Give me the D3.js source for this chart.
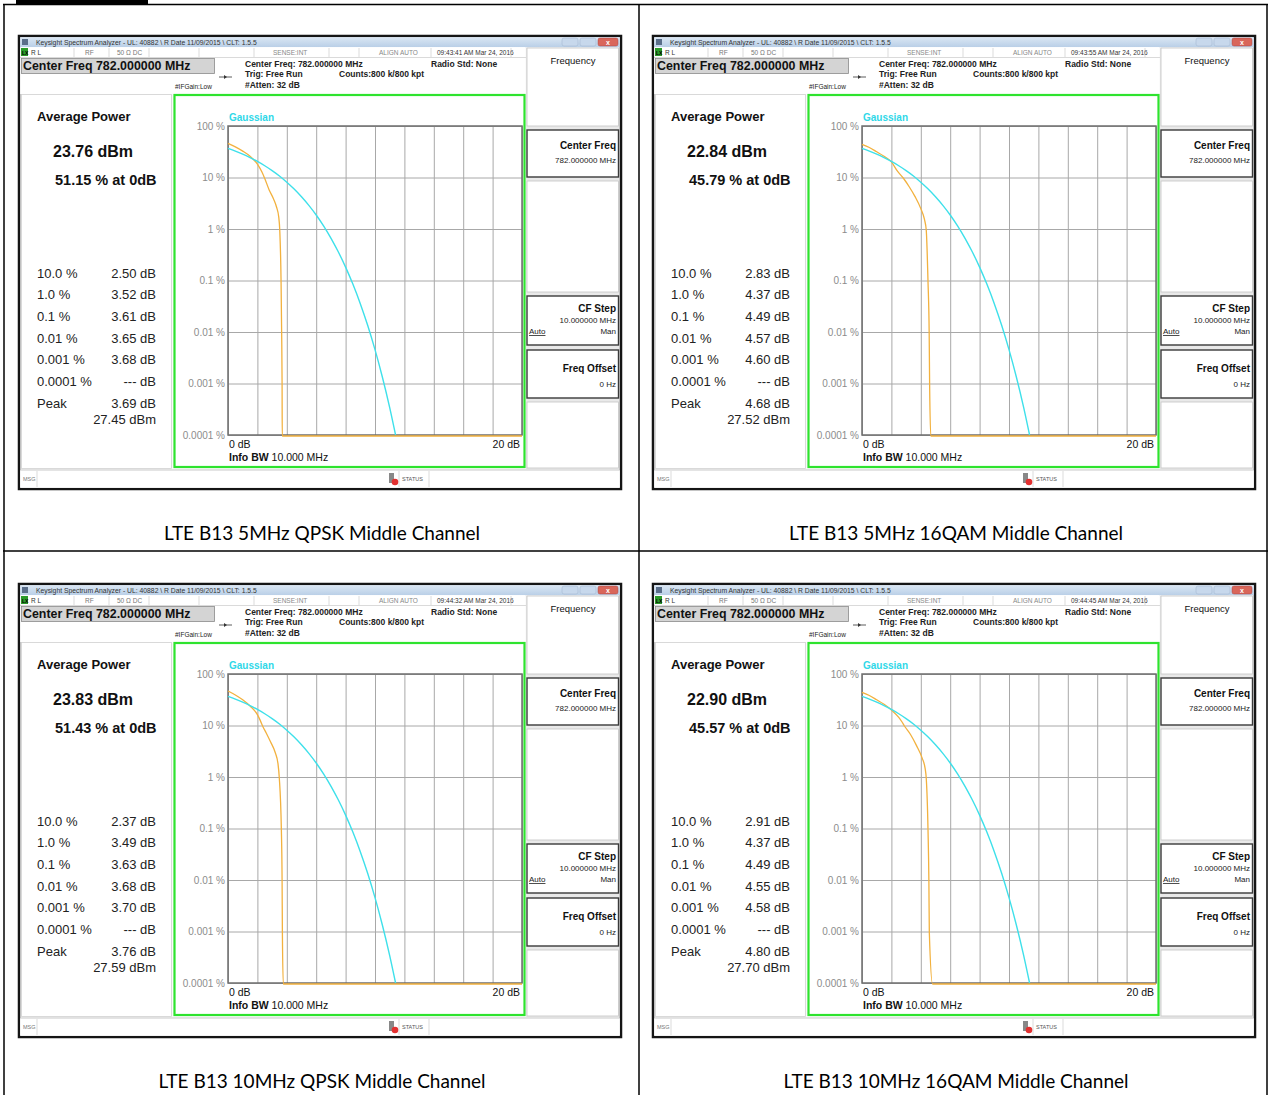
<!DOCTYPE html>
<html><head><meta charset="utf-8">
<script src="https://cdn.jsdelivr.net/npm/d3@7"></script>
<style>
body{margin:0;background:#fff;}
svg{display:block;}
text{font-family:"Liberation Sans",Arial,sans-serif;}
</style></head><body>
<script>
// ---------------- DATA ----------------
const captions = ["LTE B13 5MHz QPSK Middle Channel","LTE B13 5MHz 16QAM Middle Channel",
                  "LTE B13 10MHz QPSK Middle Channel","LTE B13 10MHz 16QAM Middle Channel"];
const timestamps = ["09:43:41 AM Mar 24, 2016","09:43:55 AM Mar 24, 2016",
                    "09:44:32 AM Mar 24, 2016","09:44:45 AM Mar 24, 2016"];
const avgPower = ["23.76 dBm","22.84 dBm","23.83 dBm","22.90 dBm"];
const pctAt0dB = ["51.15 % at 0dB","45.79 % at 0dB","51.43 % at 0dB","45.57 % at 0dB"];
const ccdfLabels = ["10.0 %","1.0 %","0.1 %","0.01 %","0.001 %","0.0001 %","Peak"];
const ccdfValues1 = ["2.50 dB","3.52 dB","3.61 dB","3.65 dB","3.68 dB","--- dB","3.69 dB"];
const ccdfValues2 = ["2.83 dB","4.37 dB","4.49 dB","4.57 dB","4.60 dB","--- dB","4.68 dB"];
const ccdfValues3 = ["2.37 dB","3.49 dB","3.63 dB","3.68 dB","3.70 dB","--- dB","3.76 dB"];
const ccdfValues4 = ["2.91 dB","4.37 dB","4.49 dB","4.55 dB","4.58 dB","--- dB","4.80 dB"];
const peakPower = ["27.45 dBm","27.52 dBm","27.59 dBm","27.70 dBm"];

const yTickValues = [100,10,1,0.1,0.01,0.001,0.0001];
const yTickLabels = ["100 %","10 %","1 %","0.1 %","0.01 %","0.001 %","0.0001 %"];
const xTickValues = [0,2,4,6,8,10,12,14,16,18,20];

// Gaussian reference trace (dB above average, % probability)
const gaussDb  = [0,0.5,1,1.5,2,2.5,3,3.5,4,4.5,5,5.5,6,6.5,7,7.5,8,8.5,9,9.5,10,10.5,11,11.4];
const gaussPct = [36.8,32.6,28.4,24.3,20.5,16.9,13.6,10.7,8.1,5.97,4.23,2.88,1.87,1.15,0.666,0.361,0.182,0.0843,0.0355,0.0135,0.00454,0.00134,0.000341,0.0001];

// Measured CCDF traces
const trace1Db  = [0,0.5,1,1.5,2,2.3,2.5,2.8,3.1,3.3,3.45,3.52,3.61,3.65,3.68,3.69,20];
const trace1Pct = [48,41,34,27,19,13.5,10,6,4,2.8,1.8,1,0.1,0.01,0.001,0.0001,0.0001];
const trace2Db  = [0,0.5,1,1.5,2,2.4,2.83,3.2,3.6,4.0,4.25,4.37,4.49,4.57,4.60,4.68,20];
const trace2Pct = [46,40,33,27,21,14,10,7,4.5,2.6,1.6,1,0.1,0.01,0.001,0.0001,0.0001];
const trace3Db  = [0,0.5,1,1.5,2,2.2,2.37,2.6,2.9,3.2,3.4,3.49,3.63,3.68,3.70,3.76,20];
const trace3Pct = [49,41,33,25,17,13,10,7.5,5,3.2,1.9,1,0.1,0.01,0.001,0.0001,0.0001];
const trace4Db  = [0,0.5,1,1.5,2,2.5,2.7,2.91,3.3,3.7,4.1,4.3,4.37,4.49,4.55,4.58,4.80,20];
const trace4Pct = [46,40,33,27,21,15,12.5,10,7,4.3,2.4,1.5,1,0.1,0.01,0.001,0.0001,0.0001];

const ccdfValues = [ccdfValues1,ccdfValues2,ccdfValues3,ccdfValues4];
const traces = [[trace1Db,trace1Pct],[trace2Db,trace2Pct],[trace3Db,trace3Pct],[trace4Db,trace4Pct]];

// ---------------- LAYOUT ----------------
const W = 1268, H = 1095;
const origins = [[19,36],[653,36],[19,584],[653,584]];
const captionPos = [[322,540],[956,540],[322,1088],[956,1088]];

const svg = d3.select("body").append("svg").attr("width",W).attr("height",H);
const defs = svg.append("defs");
const tb = defs.append("linearGradient").attr("id","tb").attr("x1",0).attr("y1",0).attr("x2",0).attr("y2",1);
tb.append("stop").attr("offset",0).attr("stop-color","#dbe7f4");
tb.append("stop").attr("offset",1).attr("stop-color","#b9cfe7");

// table lines
svg.append("rect").attr("x",16).attr("y",0).attr("width",132).attr("height",4).attr("fill","#000");
svg.append("line").attr("x1",3).attr("x2",W).attr("y1",4.5).attr("y2",4.5).attr("stroke","#000").attr("stroke-width",1.5);
svg.append("line").attr("x1",4).attr("x2",4).attr("y1",4).attr("y2",H).attr("stroke","#000").attr("stroke-width",1.5);
svg.append("line").attr("x1",639).attr("x2",639).attr("y1",4).attr("y2",H).attr("stroke","#000").attr("stroke-width",1.5);
svg.append("line").attr("x1",1267).attr("x2",1267).attr("y1",4).attr("y2",H).attr("stroke","#000").attr("stroke-width",1.5);
svg.append("line").attr("x1",3).attr("x2",W).attr("y1",551).attr("y2",551).attr("stroke","#000").attr("stroke-width",1.5);

captions.forEach((c,i)=>{
  svg.append("text").attr("x",captionPos[i][0]).attr("y",captionPos[i][1])
    .attr("text-anchor","middle").style("font-family","Lato, 'Open Sans', sans-serif")
    .attr("font-size",19).attr("fill","#000").text(c);
});

function txt(g,x,y,s,opts={}){
  const t = g.append("text").attr("x",x).attr("y",y).text(s)
    .attr("font-size",opts.size||8).attr("fill",opts.fill||"#111");
  if(opts.bold) t.attr("font-weight","bold");
  if(opts.anchor) t.attr("text-anchor",opts.anchor);
  if(opts.deco) t.attr("text-decoration",opts.deco);
  return t;
}

function drawPanel(i){
  const [ox,oy] = origins[i];
  const g = svg.append("g").attr("transform",`translate(${ox},${oy})`);
  // frame
  g.append("rect").attr("x",0).attr("y",0).attr("width",602).attr("height",453)
    .attr("fill","#fafafa").attr("stroke","#151515").attr("stroke-width",2.5);
  // title bar
  g.append("rect").attr("x",1.2).attr("y",1.2).attr("width",599.6).attr("height",10).attr("fill","url(#tb)");
  g.append("rect").attr("x",3).attr("y",3).attr("width",6).attr("height",6).attr("fill","#5a6e8a");
  txt(g,17,9,"Keysight Spectrum Analyzer - UL: 40882 \\ R Date 11/09/2015 \\ CLT: 1.5.5",{size:6.8,fill:"#333"});
  g.append("rect").attr("x",543).attr("y",2).attr("width",16).attr("height",8).attr("rx",2).attr("fill","#c7d8ec").attr("stroke","#9fb3cc").attr("stroke-width",0.5);
  g.append("rect").attr("x",561).attr("y",2).attr("width",16).attr("height",8).attr("rx",2).attr("fill","#c7d8ec").attr("stroke","#9fb3cc").attr("stroke-width",0.5);
  g.append("rect").attr("x",579).attr("y",2).attr("width",20).attr("height",8).attr("rx",2).attr("fill","#d9665a").attr("stroke","#a44").attr("stroke-width",0.5);
  txt(g,589,9,"x",{size:7,fill:"#fff",anchor:"middle",bold:true});
  // status row
  g.append("rect").attr("x",1.2).attr("y",11.2).attr("width",505).attr("height",10).attr("fill","#fff");
  g.append("rect").attr("x",2).attr("y",12).attr("width",7).attr("height",8).attr("fill","#2a9a2a");
  txt(g,3,18.5,"LX",{size:5,fill:"#000",bold:true});
  txt(g,12,18.5,"R L",{size:6.5,fill:"#333"});
  txt(g,66,18.5,"RF",{size:6.5,fill:"#777"});
  txt(g,98,18.5,"50 Ω   DC",{size:6.5,fill:"#777"});
  txt(g,254,18.5,"SENSE:INT",{size:6.5,fill:"#888"});
  txt(g,360,18.5,"ALIGN AUTO",{size:6.5,fill:"#888"});
  txt(g,418,18.5,timestamps[i],{size:6.5,fill:"#333"});
  [55,90,130,180,235,310,340,412,492].forEach(x=>{
    g.append("line").attr("x1",x).attr("x2",x).attr("y1",12).attr("y2",21).attr("stroke","#ccc").attr("stroke-width",0.7);
  });
  g.append("line").attr("x1",1).attr("x2",507).attr("y1",21.5).attr("y2",21.5).attr("stroke","#ccc").attr("stroke-width",0.7);
  // header area
  g.append("rect").attr("x",1.2).attr("y",22).attr("width",505).attr("height",36).attr("fill","#fff");
  g.append("rect").attr("x",2.5).attr("y",22.5).attr("width",193).attr("height",15)
    .attr("fill","#d4d4d4").attr("stroke","#8a8a8a").attr("stroke-width",0.8);
  txt(g,4,34,"Center Freq 782.000000 MHz",{size:12.4,bold:true,fill:"#111"});
  txt(g,226,31,"Center Freq: 782.000000 MHz",{size:8.5,bold:true,fill:"#222"});
  txt(g,226,41,"Trig: Free Run",{size:8.5,bold:true,fill:"#222"});
  txt(g,226,52,"#Atten: 32 dB",{size:8.5,bold:true,fill:"#222"});
  txt(g,320,41,"Counts:800 k/800 kpt",{size:8.5,bold:true,fill:"#222"});
  txt(g,412,31,"Radio Std: None",{size:8.5,bold:true,fill:"#222"});
  txt(g,156,53,"#IFGain:Low",{size:6.5,fill:"#222"});
  g.append("line").attr("x1",200).attr("x2",213).attr("y1",41).attr("y2",41).attr("stroke","#333").attr("stroke-width",0.8);
  g.append("path").attr("d","M205,39 L208,41 L205,43 Z").attr("fill","#333");

  // left measurement panel
  g.append("rect").attr("x",2.5).attr("y",58.5).attr("width",150).attr("height",374).attr("fill","#fff").attr("stroke","#d0d0d0").attr("stroke-width",0.8);
  txt(g,18,85,"Average Power",{size:13,bold:true,fill:"#111"});
  txt(g,34,121,avgPower[i],{size:16,bold:true,fill:"#111"});
  txt(g,36,149,pctAt0dB[i],{size:14.5,bold:true,fill:"#111"});
  const rowY = [241.5,263,285,306.5,328,349.5,371.5];
  ccdfLabels.forEach((l,k)=>{
    txt(g,18,rowY[k],l,{size:13,fill:"#222"});
    txt(g,137,rowY[k],ccdfValues[i][k],{size:13,fill:"#222",anchor:"end"});
  });
  txt(g,137,387.5,peakPower[i],{size:13,fill:"#222",anchor:"end"});

  // green box
  g.append("rect").attr("x",155.5).attr("y",59).attr("width",350).attr("height",372).attr("fill","#fff");
  // plot
  const pl = 209, pr = 503, pt = 90, pb = 399;
  const x = d3.scaleLinear().domain([0,20]).range([pl,pr]);
  const y = d3.scaleLog().domain([100,0.0001]).range([pt,pb]);
  const gx = g.append("g").attr("transform",`translate(0,${pb})`)
    .call(d3.axisBottom(x).tickValues(xTickValues).tickSize(-(pb-pt)).tickFormat(""));
  gx.select(".domain").remove();
  gx.selectAll("line").attr("stroke","#a8a8a8").attr("stroke-width",1);
  const gy = g.append("g").attr("transform",`translate(${pl},0)`)
    .call(d3.axisLeft(y).tickValues(yTickValues).tickSize(-(pr-pl)).tickPadding(3)
      .tickFormat((d,k)=>yTickLabels[k]));
  gy.select(".domain").remove();
  gy.selectAll("line").attr("stroke","#a8a8a8").attr("stroke-width",1);
  gy.selectAll("text").attr("font-size",10).attr("fill","#8c8c8c")
    .style("font-family","'Liberation Sans',Arial,sans-serif");
  g.append("rect").attr("x",pl).attr("y",pt).attr("width",pr-pl).attr("height",pb-pt)
    .attr("fill","none").attr("stroke","#6e6e6e").attr("stroke-width",1.5);

  const line = d3.line().x(d=>x(d[0])).y(d=>y(d[1])).curve(d3.curveMonotoneX);
  const gauss = gaussDb.map((d,k)=>[d,gaussPct[k]]);
  const tr = traces[i][0].map((d,k)=>[d,traces[i][1][k]]);
  g.append("path").attr("d",line(tr)).attr("fill","none").attr("stroke","#f2b13e").attr("stroke-width",1.3)
    .attr("transform","translate(0,1)");
  g.append("path").attr("d",line(gauss)).attr("fill","none").attr("stroke","#3ee0ea").attr("stroke-width",1.4);

  txt(g,210,85,"Gaussian",{size:10,bold:true,fill:"#2fd8e8"});
  txt(g,210,412,"0 dB",{size:10.5,fill:"#111"});
  txt(g,501,412,"20 dB",{size:10.5,fill:"#111",anchor:"end"});
  const ib = txt(g,210,425,"",{size:10.5,fill:"#111"});
  ib.append("tspan").attr("font-weight","bold").text("Info BW");
  ib.append("tspan").text(" 10.000 MHz");

  g.append("rect").attr("x",155.5).attr("y",59).attr("width",350).attr("height",372)
    .attr("fill","none").attr("stroke","#2ee32e").attr("stroke-width",2.2);

  // softkey panel
  g.append("rect").attr("x",507).attr("y",12).attr("width",93).attr("height",421).attr("fill","#e9e9e9");
  const keys = [[12,90,false],[94,141,true],[145,256,false],[260,309,true],[314,362,true],[366,432,false]];
  keys.forEach(([a,b,dark])=>{
    g.append("rect").attr("x",508).attr("y",a).attr("width",91.5).attr("height",b-a)
      .attr("fill","#fff").attr("stroke",dark?"#3a3a3a":"#c4c4c4").attr("stroke-width",dark?1.4:0.8);
  });
  txt(g,554,28,"Frequency",{size:9.5,fill:"#111",anchor:"middle"});
  txt(g,597,113,"Center Freq",{size:10,bold:true,fill:"#111",anchor:"end"});
  txt(g,597,127,"782.000000 MHz",{size:8,fill:"#222",anchor:"end"});
  txt(g,597,276,"CF Step",{size:10,bold:true,fill:"#111",anchor:"end"});
  txt(g,597,287,"10.000000 MHz",{size:8,fill:"#222",anchor:"end"});
  txt(g,510,298,"Auto",{size:8,fill:"#222",deco:"underline"});
  txt(g,597,298,"Man",{size:8,fill:"#222",anchor:"end"});
  txt(g,597,336,"Freq Offset",{size:10,bold:true,fill:"#111",anchor:"end"});
  txt(g,597,351,"0 Hz",{size:8,fill:"#222",anchor:"end"});

  // bottom status bar
  g.append("rect").attr("x",1.2).attr("y",434).attr("width",599.6).attr("height",17.8).attr("fill","#fff");
  g.append("line").attr("x1",1).attr("x2",601).attr("y1",434).attr("y2",434).attr("stroke","#bbb").attr("stroke-width",0.8);
  txt(g,4,445,"MSG",{size:5.5,fill:"#777"});
  [18,380,410].forEach(xx=>g.append("line").attr("x1",xx).attr("x2",xx).attr("y1",435).attr("y2",451).attr("stroke","#ccc").attr("stroke-width",0.7));
  g.append("rect").attr("x",370).attr("y",437).attr("width",5).attr("height",10).attr("fill","#888");
  g.append("circle").attr("cx",376).attr("cy",446).attr("r",3.3).attr("fill","#e23030");
  txt(g,383,445,"STATUS",{size:5.5,fill:"#555"});
}

for(let i=0;i<4;i++) drawPanel(i);
</script>
</body></html>
